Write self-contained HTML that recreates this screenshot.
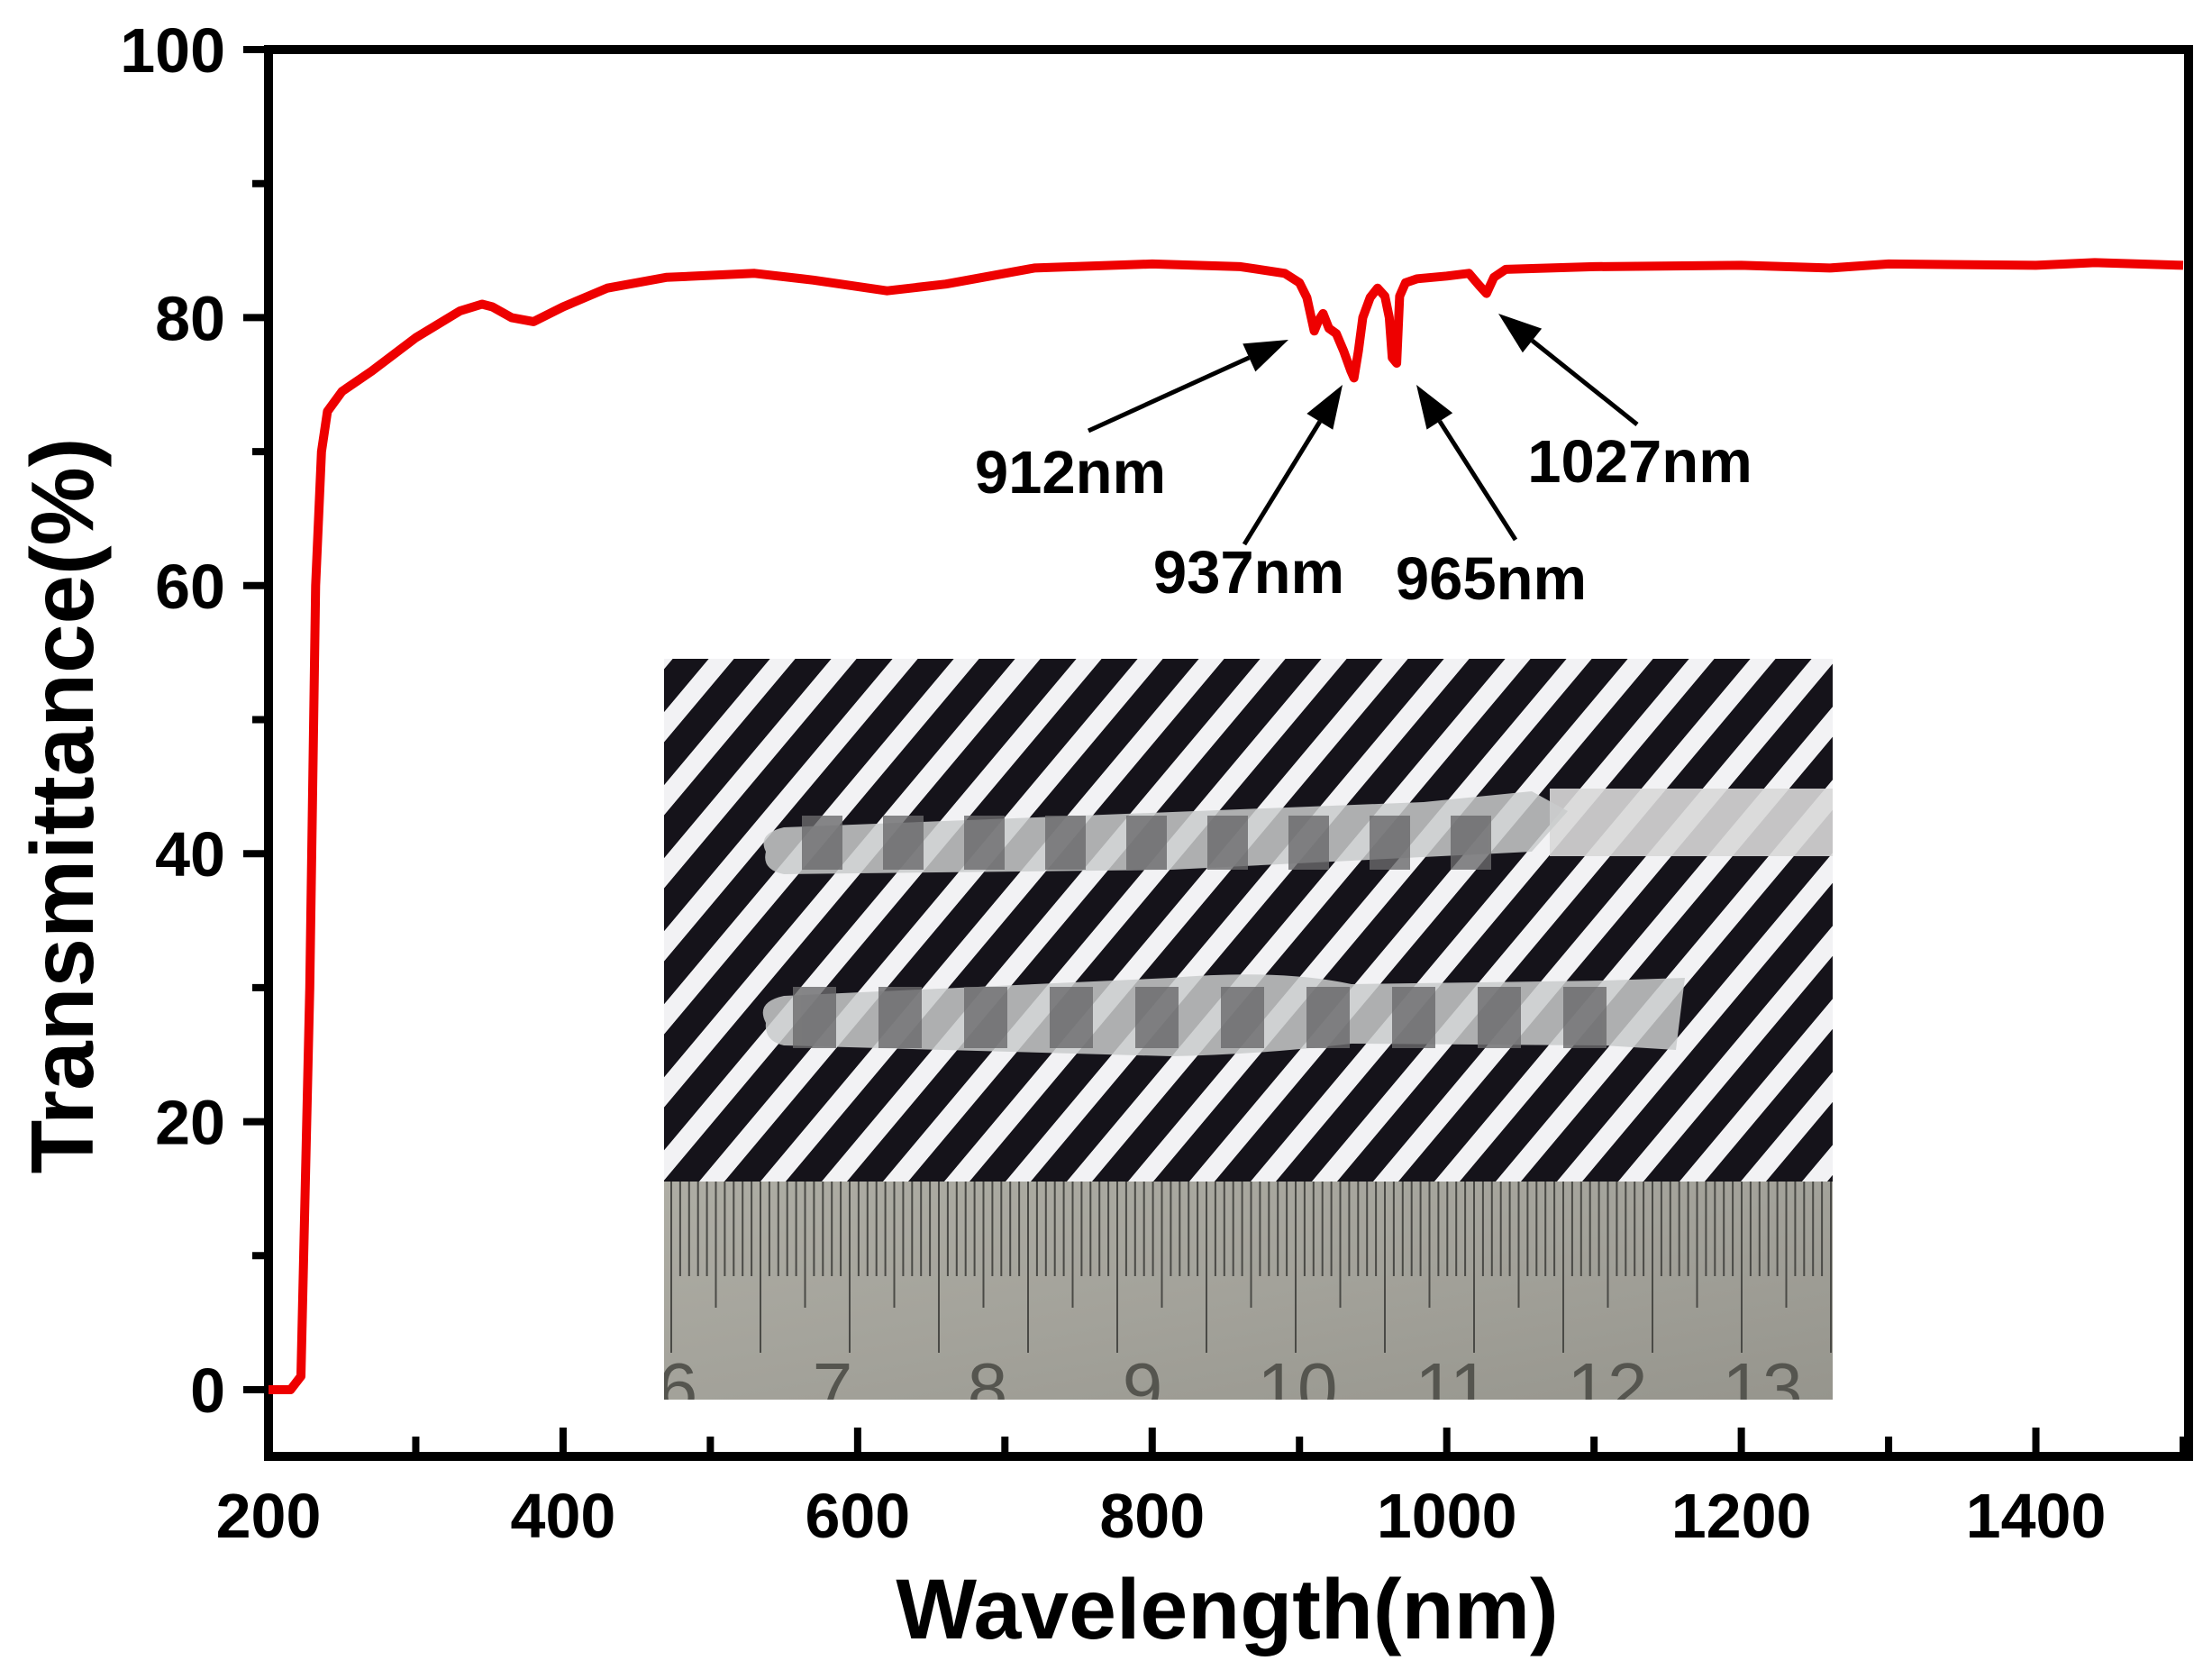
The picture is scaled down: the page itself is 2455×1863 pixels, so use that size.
<!DOCTYPE html>
<html><head><meta charset="utf-8"><style>
html,body{margin:0;padding:0;background:#fff;}
svg{display:block;}
text{font-family:"Liberation Sans",Arial,sans-serif;font-weight:bold;fill:#000;}
</style></head><body>
<svg id="chart" width="2455" height="1863" viewBox="0 0 2455 1863" xmlns="http://www.w3.org/2000/svg">
<defs>
<pattern id="stripes" patternUnits="userSpaceOnUse" width="68" height="100" patternTransform="skewX(-40)">
<rect x="0" y="0" width="68" height="100" fill="#f2f2f4"/>
<rect x="0" y="0" width="40" height="100" fill="#15131a"/>
</pattern>
<linearGradient id="ruler" x1="0" y1="0" x2="1" y2="1">
<stop offset="0" stop-color="#aeada4"/><stop offset="0.5" stop-color="#a3a29a"/><stop offset="1" stop-color="#96958d"/>
</linearGradient>
<clipPath id="insetClip"><rect x="737" y="731" width="1297" height="822"/></clipPath>
</defs>
<g id="inset" clip-path="url(#insetClip)">
<rect x="737" y="731" width="1297" height="580" fill="url(#stripes)"/>
<rect x="1720" y="875" width="314" height="75" fill="#d8d8d8" opacity="0.9"/>
<path d="M850,945 Q840,925 870,918 L1580,890 L1700,878 L1740,900 L1700,945 L1300,965 L870,970 Q845,965 850,945 Z" fill="#c9cbcb" opacity="0.85"/>
<path d="M850,1135 Q838,1112 870,1105 L1300,1085 Q1420,1075 1500,1092 L1780,1088 L1870,1085 L1860,1165 L1780,1160 L1500,1158 Q1400,1170 1300,1172 L870,1160 Q848,1155 850,1135 Z" fill="#c9cbcb" opacity="0.85"/>
<g id="rod-bands" fill="#6a6a6c" opacity="0.8"></g>
<rect x="737" y="1311" width="1297" height="242" fill="url(#ruler)"/>
<g id="ruler-ticks" stroke="#4a4a46" stroke-width="2"></g>
<g id="ruler-nums" font-size="80"></g>
</g>
<g id="axes" fill="none" stroke="#000" stroke-width="10">
<rect x="298" y="55" width="2131" height="1561"/>
</g>
<g id="ticks" stroke="#000" stroke-width="8"></g>
<g id="labels"></g>
<path id="curve" fill="none" stroke="#ee0000" stroke-width="10" stroke-linejoin="round"/>
<g id="annotations" stroke="#000" stroke-width="5"></g>
<text x="1362" y="1818" font-size="95" text-anchor="middle">Wavelength(nm)</text>
<text x="0" y="0" font-size="98" text-anchor="middle" transform="translate(103,894) rotate(-90)">Transmittance(%)</text>
</svg>
<script>
const wavelengths=[200,215,222,228,232,236,240,250,270,300,330,345,352,365,380,400,430,470,530,570,620,660,720,800,860,890,900,905,910,913,916,920,925,930,935,937,940,943,948,953,958,961,963,966,968,972,980,1000,1015,1022,1027,1032,1040,1100,1200,1260,1300,1400,1440,1500];
const transmittance=[0,0,1,30,60,70,73,74.5,76,78.5,80.5,81,80.8,80,79.7,80.8,82.2,83,83.3,82.8,82,82.5,83.7,84,83.8,83.3,82.6,81.5,79,79.8,80.3,79.2,78.8,77.5,76,75.5,77.5,80,81.5,82.2,81.6,80,77,76.6,81.6,82.6,82.9,83.1,83.3,82.4,81.8,83,83.6,83.8,83.9,83.7,84,83.9,84.1,83.9];
const xTicks=[200,400,600,800,1000,1200,1400];
const yTicks=[0,20,40,60,80,100];
const peakLabels=["912nm","937nm","965nm","1027nm"];

const X0=298,X1=2423,Y0=1542,Y100=55;
const sx=v=>X0+(v-200)/(1500-200)*(X1-X0);
const sy=v=>Y0-(v/100)*(Y0-Y100);
const NS="http://www.w3.org/2000/svg";
function mk(tag,attrs,parent){const e=document.createElementNS(NS,tag);for(const k in attrs)e.setAttribute(k,attrs[k]);parent.appendChild(e);return e;}

let d="";
wavelengths.forEach((w,i)=>{d+=(i?"L":"M")+sx(w).toFixed(1)+","+sy(transmittance[i]).toFixed(1);});
document.getElementById("curve").setAttribute("d",d);

const tg=document.getElementById("ticks"),lg=document.getElementById("labels");
for(let v=200;v<=1500;v+=100){
  const major=v%200===0;
  const t=mk("line",{x1:sx(v),x2:sx(v),y1:1616,y2:1616-(major?32:22)},tg);
  
  
}
xTicks.forEach(v=>{
  const t=mk("text",{x:sx(v),y:1706,"font-size":70,"text-anchor":"middle"},lg);
  t.textContent=v;
  
  
});
for(let v=0;v<=100;v+=10){
  const major=v%20===0;
  const t=mk("line",{x1:298,x2:298-(major?28:18),y1:sy(v),y2:sy(v)},tg);
  
  
}
yTicks.forEach(v=>{
  const t=mk("text",{x:250,y:sy(v)+25,"font-size":70,"text-anchor":"end"},lg);
  t.textContent=v;
  
  
});

const ag=document.getElementById("annotations");
const arrowFrom=[[1208,478],[1381,604],[1682,599],[1817,471]];
const arrowTo=[[1430,377],[1490,427],[1572,427],[1663,348]];
const labelPos=[[1188,547],[1386,658],[1655,665],[1820,535]];
peakLabels.forEach((lab,i)=>{
  const [x1,y1]=arrowFrom[i],[x2,y2]=arrowTo[i];
  const ang=Math.atan2(y2-y1,x2-x1),L=48,W=17;
  const bx=x2-L*Math.cos(ang),by=y2-L*Math.sin(ang);
  const ln=mk("line",{x1:x1,y1:y1,x2:bx,y2:by},ag);
  
  
  const p=mk("polygon",{points:`${x2},${y2} ${bx+W*Math.sin(ang)},${by-W*Math.cos(ang)} ${bx-W*Math.sin(ang)},${by+W*Math.cos(ang)}`,fill:"#000",stroke:"none"},ag);
  
  
  const t=mk("text",{x:labelPos[i][0],y:labelPos[i][1],"font-size":67,"text-anchor":"middle",stroke:"none"},ag);
  t.textContent=lab;
  
  
});

const rb=document.getElementById("rod-bands");
for(let i=0;i<9;i++){mk("rect",{x:890+i*90,y:905,width:45,height:60},rb);}
for(let i=0;i<10;i++){mk("rect",{x:880+i*95,y:1095,width:48,height:68},rb);}
const rt=document.getElementById("ruler-ticks");
for(let i=0;i<=130;i++){const x=745+i*9.9;const h=i%10===0?190:(i%5===0?140:105);mk("line",{x1:x,x2:x,y1:1311,y2:1311+h},rt);}
const rn=document.getElementById("ruler-nums");
const rnums=["6","7","8","9","10","11","12","13"];
rnums.forEach((n,i)=>{const t=mk("text",{x:752+i*172,y:1568,"text-anchor":"middle",style:"fill:#55554f;font-weight:normal"},rn);t.textContent=n;});
</script>
</body></html>
